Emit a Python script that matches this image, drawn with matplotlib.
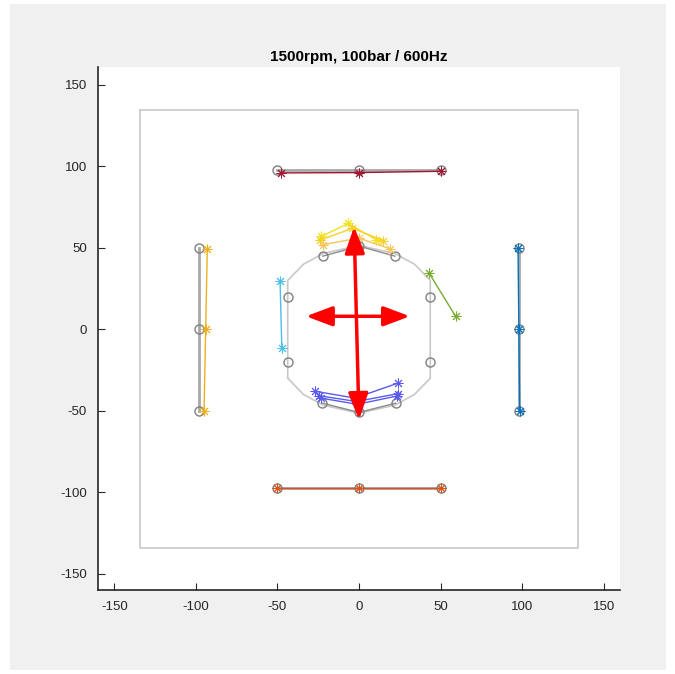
import matplotlib.pyplot as plt
from matplotlib.patches import Rectangle

plt.rcParams['font.family'] = ['Liberation Sans', 'DejaVu Sans']
plt.rcParams['axes.unicode_minus'] = False

# reference (measured) positions, grouped by sensor row
ref_top_x = [-50, 0, 50]
ref_top_y = [97.5, 97.5, 97.5]
ref_bot_x = [-50, 0, 50]
ref_bot_y = [-97.5, -97.5, -97.5]
ref_left_x = [-98, -98, -98]
ref_left_y = [50, 0, -50]
ref_right_x = [98, 98, 98]
ref_right_y = [50, 0, -50]
ref_in_top_x = [-22.2, 0.2, 22]
ref_in_top_y = [44.9, 51, 44.9]
ref_in_bot_x = [-22.5, 0, 22.5]
ref_in_bot_y = [-45.3, -51, -45.3]
ref_in_left_x = [-43.7, -43.7]
ref_in_left_y = [19.9, -20.1]
ref_in_right_x = [43.7, 43.7]
ref_in_right_y = [19.9, -20.1]

# measured (deformed) positions
top_x = [-48, 0, 50]
top_y = [96, 96.2, 97]
bot_x = [-50, 0, 50.5]
bot_y = [-97.5, -97.5, -97.5]
left_x = [-93, -94, -95]
left_y = [49.5, 0, -50]
right_x = [97.5, 98, 98.5]
right_y = [50, 0, -50]
cyan_x = [-48.4, -47.3]
cyan_y = [29.5, -11.7]
green_x = [42.9, 59.2]
green_y = [34.6, 8]

yellow_x = [[-23, -6.5, 10.4], [-24, -4, 14.9], [-22, 0, 19]]
yellow_y = [[57, 65, 55], [54.7, 62, 54.5], [52, 56, 49.4]]
yellow_c = ['#f2e21a', '#f7cf2a', '#fbc45a']

blue_x = [[-27, -2.5, 24], [-24.3, -1.4, 23.7], [-23.5, -1, 23]]
blue_y = [[-38, -42.2, -33], [-40.8, -44.3, -39.5], [-42.2, -46, -41]]

# inner contour and outer frame
contour_x = [-43.7, -43.7, -34, -22, 0, 22, 34, 43.7, 43.7, 34, 22, 0, -22, -34, -43.7]
contour_y = [-30, 30, 40, 46.5, 51.5, 46.5, 40, 30, -30, -40, -46.5, -51.5, -46.5, -40, -30]
frame_x = [-134, 134, 134, -134, -134]
frame_y = [134.5, 134.5, -134.5, -134.5, 134.5]

# arrows (tail, head)
arrow_v = [(0, -55.5), (-3, 63)]
arrow_h = [(-32.5, 8), (31.2, 8)]

fig = plt.figure(figsize=(6.75, 6.74), dpi=100, facecolor='white')
fig.patches.append(Rectangle((10 / 675, 4 / 674), 656 / 675, 666 / 674,
                             transform=fig.transFigure, facecolor='#f0f0f0',
                             edgecolor='none', zorder=-10))
ax = fig.add_axes([0.1452, 0.1246, 0.7733, 0.776])

ax.plot(frame_x, frame_y, color='#c8c8c8', lw=1.2)
ax.plot(contour_x, contour_y, color='#c8c8c8', lw=1.2)

circ = dict(marker='o', mfc='none', mec='#808080', ms=6.5, mew=1.0)
for xs, ys in [(ref_top_x, ref_top_y), (ref_bot_x, ref_bot_y),
               (ref_left_x, ref_left_y), (ref_right_x, ref_right_y)]:
    ax.plot(xs, ys, color='#a8a8a8', lw=2.0, **circ)
for xs, ys in [(ref_in_top_x, ref_in_top_y), (ref_in_bot_x, ref_in_bot_y)]:
    ax.plot(xs, ys, color='#8c8c8c', lw=1.0, **circ)
for xs, ys in [(ref_in_left_x, ref_in_left_y), (ref_in_right_x, ref_in_right_y)]:
    ax.plot(xs, ys, ls='none', **circ)

star = dict(marker=(8, 2, 0), ms=7, mew=0.7, lw=1.0)
ax.plot(top_x, top_y, color='#a2142f', **star)
ax.plot(bot_x, bot_y, color='#d95319', **star)
ax.plot(left_x, left_y, color='#edb120', **star)
ax.plot(right_x, right_y, color='#0072bd', **star)
ax.plot(cyan_x, cyan_y, color='#4dbeee', **star)
ax.plot(green_x, green_y, color='#77ac30', **star)
for xs, ys, c in zip(yellow_x, yellow_y, yellow_c):
    ax.plot(xs, ys, color=c, **star)
for xs, ys in zip(blue_x, blue_y):
    ax.plot(xs, ys, color='#5a5af0', **star)

for (x0, y0), (x1, y1) in [arrow_v, arrow_h]:
    ax.annotate('', xy=(x1, y1), xytext=(x0, y0),
                arrowprops=dict(arrowstyle='<|-|>,head_length=0.8,head_width=0.3',
                                color='#ff0000', lw=2.5, mutation_scale=20,
                                shrinkA=0, shrinkB=0))

ax.set_xlim(-160, 160)
ax.set_ylim(-160, 161)
ax.set_xticks([-150, -100, -50, 0, 50, 100, 150])
ax.set_yticks([-150, -100, -50, 0, 50, 100, 150])
for s in ['top', 'right']:
    ax.spines[s].set_visible(False)
for s in ['left', 'bottom']:
    ax.spines[s].set_color('#262626')
    ax.spines[s].set_linewidth(1.2)
ax.tick_params(direction='in', length=5, colors='#262626', labelsize=9.5, pad=8)
ax.set_title('1500rpm, 100bar / 600Hz', fontsize=11, fontweight='bold', color='black', pad=4)

fig.savefig('out.png', dpi=100, facecolor=fig.get_facecolor())
